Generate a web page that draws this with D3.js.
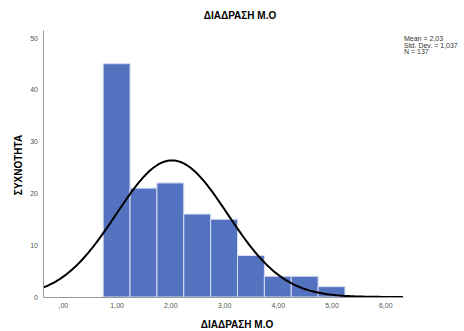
<!DOCTYPE html>
<html>
<head>
<meta charset="utf-8">
<script src="https://cdn.jsdelivr.net/npm/d3@7"></script>
<style>
  body { margin: 0; background: #fff; }
  text { font-family: "Liberation Sans", Arial, sans-serif; }
</style>
</head>
<body>
<svg id="chart" width="464" height="331"></svg>
<script>
// histogram bins (lower edge) and counts
const binStarts = [0.75, 1.25, 1.75, 2.25, 2.75, 3.25, 3.75, 4.25, 4.75];
const binWidth = 0.5;
const counts = [45, 21, 22, 16, 15, 8, 4, 4, 2];

const xTicks = [0, 1, 2, 3, 4, 5, 6];
const yTicks = [0, 10, 20, 30, 40, 50];

// summary stats shown in the legend
const mean = 2.03;
const stdDev = 1.037;
const n = 137;

const svg = d3.select('#chart');

const x = d3.scaleLinear().domain([-0.37, 6.33]).range([43, 403]);
const y = d3.scaleLinear().domain([0, 51.5]).range([297, 30]);

const fmt = v => (v === 0 ? ',00' : d3.format('.2f')(v).replace('.', ','));

// bars
svg.append('g').selectAll('rect')
  .data(counts)
  .join('rect')
  .attr('x', (d, i) => x(binStarts[i]))
  .attr('y', d => y(d))
  .attr('width', (d, i) => x(binStarts[i] + binWidth) - x(binStarts[i]))
  .attr('height', d => y(0) - y(d))
  .attr('fill', '#5372c0')
  .attr('stroke', '#d6def2')
  .attr('stroke-width', 1);

// fitted normal curve (scaled to counts)
const pdf = v => n * binWidth * Math.exp(-0.5 * ((v - mean) / stdDev) ** 2) / (stdDev * Math.sqrt(2 * Math.PI));
const xs = d3.range(200).map(i => x.domain()[0] + i * (x.domain()[1] - x.domain()[0]) / 199);
svg.append('path')
  .datum(xs)
  .attr('fill', 'none')
  .attr('stroke', '#000')
  .attr('stroke-width', 2)
  .attr('d', d3.line().x(d => x(d)).y(d => y(pdf(d))));

// axes
const xAxis = svg.append('g')
  .attr('transform', `translate(0,${y(0)})`)
  .call(d3.axisBottom(x).tickValues(xTicks).tickFormat(fmt).tickSize(0).tickPadding(6));
const yAxis = svg.append('g')
  .attr('transform', `translate(${x.range()[0]},0)`)
  .call(d3.axisLeft(y).tickValues(yTicks).tickSize(0).tickPadding(5));

[xAxis, yAxis].forEach(g => {
  g.select('.domain').attr('stroke', '#999').attr('stroke-width', 1);
  g.selectAll('text').attr('fill', '#555').style('font-size', '7px');
});

// titles
svg.append('text')
  .attr('x', 240).attr('y', 19)
  .attr('text-anchor', 'middle')
  .style('font-size', '10px').style('font-weight', 'bold')
  .text('ΔΙΑΔΡΑΣΗ Μ.Ο');

svg.append('text')
  .attr('x', 237).attr('y', 328)
  .attr('text-anchor', 'middle')
  .style('font-size', '10px').style('font-weight', 'bold')
  .text('ΔΙΑΔΡΑΣΗ Μ.Ο');

svg.append('text')
  .attr('transform', 'translate(22,165) rotate(-90)')
  .attr('text-anchor', 'middle')
  .style('font-size', '10px').style('font-weight', 'bold')
  .text('ΣΥΧΝΟΤΗΤΑ');

// stats legend
const stats = ['Mean = 2,03', 'Std. Dev. = 1,037', 'N = 137'];
svg.append('g').selectAll('text')
  .data(stats)
  .join('text')
  .attr('x', 404)
  .attr('y', (d, i) => 41 + i * 6.5)
  .style('font-size', '7px')
  .attr('fill', '#333')
  .text(d => d);
</script>
</body>
</html>
